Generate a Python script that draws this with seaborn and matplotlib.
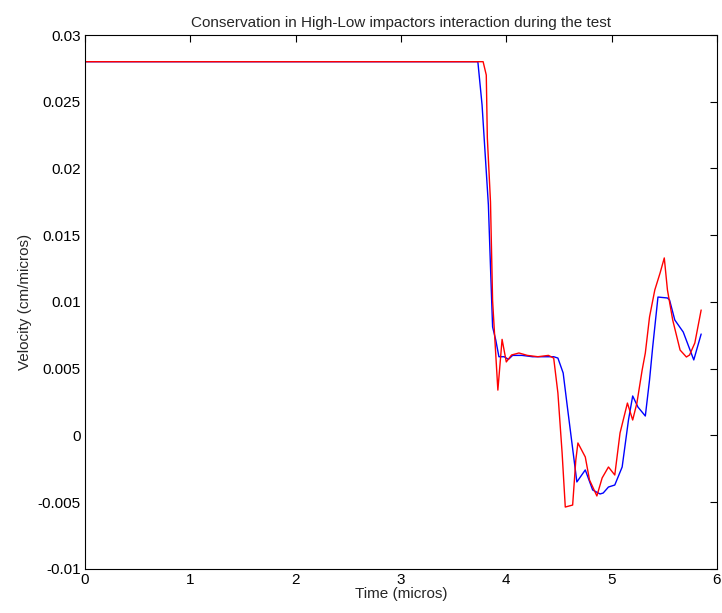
import numpy as np
import pandas as pd
import matplotlib
matplotlib.use("Agg")
import matplotlib.pyplot as plt
import seaborn as sns

# Blue series (time in micros, velocity in cm/micros)
blue_t = [0.0, 3.73, 3.77, 3.80, 3.83, 3.85, 3.87, 3.90, 3.93, 3.98, 4.02, 4.06, 4.15, 4.25,
          4.35, 4.45, 4.49, 4.54, 4.58, 4.67, 4.75, 4.82, 4.89, 4.92, 4.97, 5.03, 5.10,
          5.16, 5.20, 5.25, 5.32, 5.36, 5.39, 5.44, 5.53, 5.55, 5.60, 5.68, 5.78, 5.85]
blue_v = [0.028, 0.028, 0.02476, 0.02101, 0.01727, 0.01262, 0.00813, 0.00715, 0.0059, 0.0059,
          0.0057, 0.0060, 0.0060, 0.0059, 0.0059, 0.0059, 0.0058, 0.00468, 0.00213,
          -0.00348, -0.00258, -0.00408, -0.00438, -0.00431, -0.00386, -0.00371, -0.00236,
          0.00116, 0.00296, 0.00213, 0.00146, 0.00416, 0.00663, 0.01037, 0.0103, 0.01015,
          0.00865, 0.00775, 0.00566, 0.0076]

# Red series
red_t = [0.0, 3.78, 3.81, 3.82, 3.85, 3.87, 3.89, 3.92, 3.96, 4.00, 4.05, 4.12, 4.20, 4.30,
         4.40, 4.45, 4.49, 4.53, 4.56, 4.63, 4.66, 4.68, 4.75, 4.79, 4.86, 4.91, 4.97, 5.03,
         5.08, 5.15, 5.20, 5.24, 5.29, 5.32, 5.36, 5.41, 5.46, 5.50, 5.53, 5.58, 5.65,
         5.71, 5.74, 5.79, 5.85]
red_v = [0.028, 0.028, 0.027, 0.0223, 0.0175, 0.0101, 0.0074, 0.0034, 0.0072, 0.00551,
         0.00603, 0.00618, 0.0060, 0.0059, 0.0060, 0.0058, 0.00318, -0.00131, -0.00536,
         -0.00521, -0.00184, -0.00056, -0.00161, -0.00333, -0.00453, -0.00318, -0.00236,
         -0.00296, 0.00019, 0.00243, 0.00116, 0.00243, 0.00491, 0.00618, 0.00888, 0.0109,
         0.01217, 0.0133, 0.0109, 0.00865, 0.0064, 0.00588, 0.00603, 0.00693, 0.0094]

x_ticks = [0, 1, 2, 3, 4, 5, 6]
y_ticks = [-0.01, -0.005, 0, 0.005, 0.01, 0.015, 0.02, 0.025, 0.03]
y_labels = ["-0.01", "-0.005", "0", "0.005", "0.01", "0.015", "0.02", "0.025", "0.03"]

df = pd.concat([
    pd.DataFrame({"t": blue_t, "v": blue_v, "s": "blue"}),
    pd.DataFrame({"t": red_t, "v": red_v, "s": "red"}),
])

sns.set_style("white")
plt.rcParams["font.family"] = ["Liberation Sans Narrow", "Liberation Sans", "DejaVu Sans"]

fig = plt.figure(figsize=(7.22, 6.13), dpi=100)
ax = fig.add_axes([0.1177, 0.0718, 0.8753, 0.8711])

sns.lineplot(data=df, x="t", y="v", hue="s", palette={"blue": "#0000ff", "red": "#ff0000"},
             estimator=None, sort=False, linewidth=1.0, legend=False, ax=ax)

ax.set_xlim(0, 6)
ax.set_ylim(-0.01, 0.03)
ax.set_xticks(x_ticks)
ax.set_xticklabels([str(v) for v in x_ticks])
ax.set_yticks(y_ticks)
ax.set_yticklabels(y_labels)
ax.tick_params(direction="in", top=True, right=True, length=5, width=0.8,
               labelsize=11, color="black", labelcolor="black", pad=3)
for sp in ax.spines.values():
    sp.set_visible(True)
    sp.set_color("black")
    sp.set_linewidth(0.8)

ax.set_xlabel("Time (micros)", fontsize=11, labelpad=0)
ax.set_ylabel("Velocity (cm/micros)", fontsize=11, labelpad=4)
ax.set_title("Conservation in High-Low impactors interaction during the test", fontsize=11, pad=6)

fig.savefig("out.png", dpi=100)
